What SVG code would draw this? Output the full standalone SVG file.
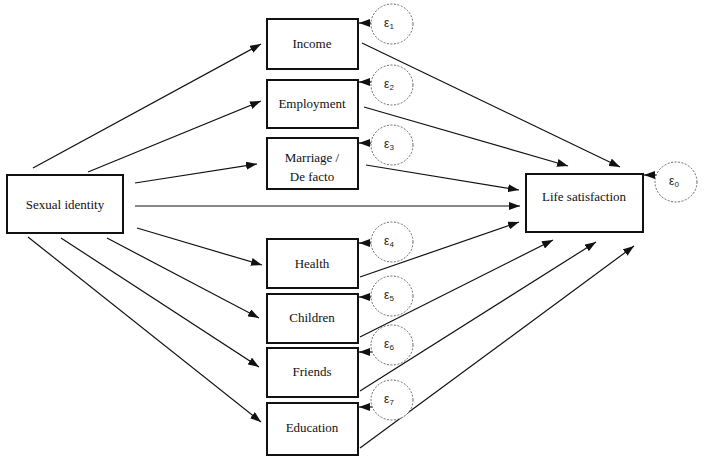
<svg xmlns="http://www.w3.org/2000/svg" width="704" height="462" viewBox="0 0 704 462">
<style>
.box{fill:#fff;stroke:#111;stroke-width:2}
.lbl{font-family:"Liberation Serif","Times New Roman",serif;font-size:13px;fill:#111;text-anchor:middle}
.eps{font-family:"Liberation Sans",Arial,sans-serif;font-size:12px;fill:#222;text-anchor:middle}
.sub{font-size:8px}
.err{fill:#fff;stroke:#444;stroke-width:0.8;stroke-dasharray:2,1.5}
.ln{stroke:#111;stroke-width:1.2;fill:none;marker-end:url(#ah)}
</style>
<defs>
<marker id="ah" markerUnits="userSpaceOnUse" markerWidth="11" markerHeight="8" refX="11" refY="4" orient="auto">
<path d="M0,0 L11,4 L0,8 z" fill="#111"/>
</marker>
</defs>
<rect width="704" height="462" fill="#fff"/>
<g id="connectors">
<line class="ln" x1="33" y1="168" x2="261" y2="44"/>
<line class="ln" x1="88" y1="172" x2="261" y2="101"/>
<line class="ln" x1="135" y1="183" x2="257" y2="164"/>
<line class="ln" x1="135" y1="206" x2="520" y2="206"/>
<line class="ln" x1="137" y1="228" x2="262" y2="265"/>
<line class="ln" x1="107" y1="238" x2="259" y2="318"/>
<line class="ln" x1="61" y1="238" x2="259" y2="367"/>
<line class="ln" x1="28" y1="237" x2="261" y2="422"/>
<line class="ln" x1="362" y1="43" x2="620" y2="167"/>
<line class="ln" x1="364" y1="107" x2="568" y2="166"/>
<line class="ln" x1="366" y1="165" x2="519" y2="190"/>
<line class="ln" x1="360" y1="277" x2="519" y2="222"/>
<line class="ln" x1="360" y1="337" x2="553" y2="240"/>
<line class="ln" x1="360" y1="391" x2="596" y2="242"/>
<line class="ln" x1="360" y1="448" x2="634" y2="246"/>
<line class="ln" x1="372" y1="23" x2="359" y2="23"/>
<line class="ln" x1="372" y1="82" x2="359" y2="82"/>
<line class="ln" x1="372" y1="143" x2="359" y2="143"/>
<line class="ln" x1="372" y1="243" x2="359" y2="243"/>
<line class="ln" x1="372" y1="297" x2="359" y2="297"/>
<line class="ln" x1="372" y1="352" x2="359" y2="352"/>
<line class="ln" x1="372" y1="407" x2="359" y2="407"/>
<line class="ln" x1="656" y1="175" x2="644" y2="175"/>
</g>
<g id="sexual-identity"><rect class="box" x="7" y="175" width="116" height="58"/><text class="lbl" x="65" y="209">Sexual identity</text></g>
<g id="income"><rect class="box" x="267" y="19" width="91" height="50"/><text class="lbl" x="312" y="48">Income</text></g>
<g id="employment"><rect class="box" x="267" y="80" width="91" height="48"/><text class="lbl" x="312" y="108">Employment</text></g>
<g id="marriage"><rect class="box" x="267" y="138" width="91" height="51"/><text class="lbl" x="312" y="162">Marriage /</text><text class="lbl" x="312" y="181">De facto</text></g>
<g id="health"><rect class="box" x="267" y="239" width="91" height="49"/><text class="lbl" x="312" y="268">Health</text></g>
<g id="children"><rect class="box" x="267" y="294" width="91" height="49"/><text class="lbl" x="312" y="322">Children</text></g>
<g id="friends"><rect class="box" x="267" y="348" width="91" height="49"/><text class="lbl" x="312" y="376">Friends</text></g>
<g id="education"><rect class="box" x="267" y="403" width="91" height="52"/><text class="lbl" x="312" y="432">Education</text></g>
<g id="life-satisfaction"><rect class="box" x="526" y="174" width="117" height="58"/><text class="lbl" x="584" y="201">Life satisfaction</text></g>
<g id="e1"><ellipse class="err" cx="392" cy="24" rx="21" ry="20"/><text class="eps" x="389" y="27">ε<tspan class="sub" dy="2">1</tspan></text></g>
<g id="e2"><ellipse class="err" cx="392" cy="85" rx="21" ry="20"/><text class="eps" x="389" y="88">ε<tspan class="sub" dy="2">2</tspan></text></g>
<g id="e3"><ellipse class="err" cx="392" cy="145" rx="21" ry="20"/><text class="eps" x="389" y="148">ε<tspan class="sub" dy="2">3</tspan></text></g>
<g id="e4"><ellipse class="err" cx="392" cy="242" rx="21" ry="20"/><text class="eps" x="389" y="245">ε<tspan class="sub" dy="2">4</tspan></text></g>
<g id="e5"><ellipse class="err" cx="392" cy="296" rx="21" ry="20"/><text class="eps" x="389" y="299">ε<tspan class="sub" dy="2">5</tspan></text></g>
<g id="e6"><ellipse class="err" cx="392" cy="345" rx="21" ry="20"/><text class="eps" x="389" y="348">ε<tspan class="sub" dy="2">6</tspan></text></g>
<g id="e7"><ellipse class="err" cx="392" cy="400" rx="21" ry="20"/><text class="eps" x="389" y="403">ε<tspan class="sub" dy="2">7</tspan></text></g>
<g id="e0"><ellipse class="err" cx="676" cy="182" rx="21" ry="20"/><text class="eps" x="674" y="185">ε<tspan class="sub" dy="2">0</tspan></text></g>
</svg>
